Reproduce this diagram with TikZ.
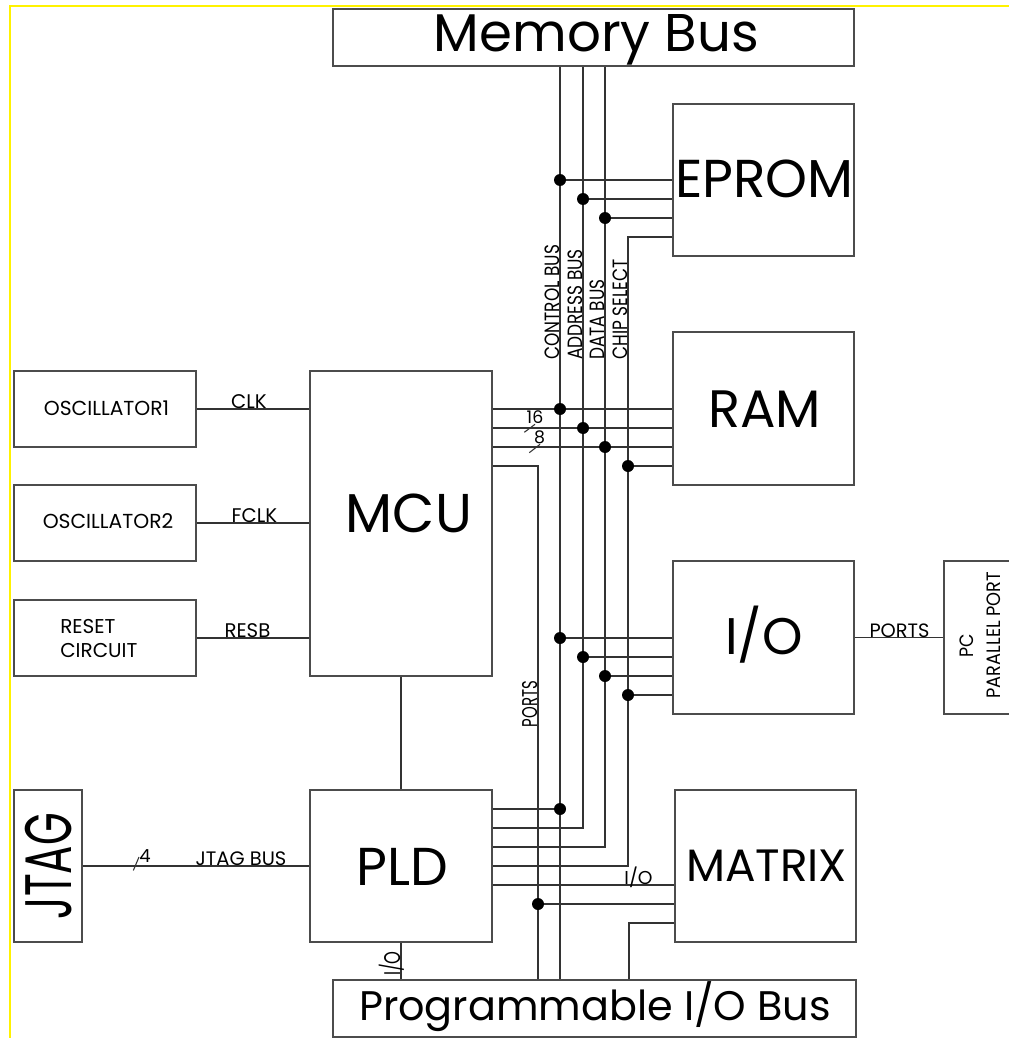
\documentclass[tikz,border=0pt]{standalone}
\usepackage{fontspec}
\setmainfont{Poppins}
\usepackage{graphicx}
\usetikzlibrary{fit,calc}
\newcommand\fs[1]{\fontsize{#1}{#1}\selectfont}
\newcommand\sq[2]{\scalebox{#1}[1]{#2}}
\tikzset{
  box/.style={draw=black!70, line width=0.9pt, inner sep=0pt},
  wire/.style={draw=black!80, line width=0.8pt},
  jdot/.style={circle, fill=black, draw=none, inner sep=0pt, minimum size=9pt},
  lbl/.style={inner sep=0pt, anchor=base, text=black},
  small/.style={lbl, font=\fs{15.2}},
  vlbl/.style={inner sep=0pt, anchor=base west, rotate=90, font=\fs{15.5}},
}
\begin{document}
\begin{tikzpicture}[x=0.75pt,y=-0.75pt]
\useasboundingbox (0,0) rectangle (1008,1038);
\draw[yellow, line width=1.5pt] (1010,6) -- (10,6) -- (10,1040);

% boxes
\node[box, fit={(333,9) (854,66)}] (mem) {};
\node[box, fit={(673,104) (854,256)}] (eprom) {};
\node[box, fit={(673,332) (854,485)}] (ram) {};
\node[box, fit={(673,561) (854,714)}] (io) {};
\node[box, fit={(675,790) (856,942)}] (matrix) {};
\node[box, fit={(333,980) (856,1037)}] (prog) {};
\node[box, fit={(310,371) (492,676)}] (mcu) {};
\node[box, fit={(310,790) (492,942)}] (pld) {};
\node[box, fit={(14,371) (196,447)}] (osc1) {};
\node[box, fit={(14,485) (196,561)}] (osc2) {};
\node[box, fit={(14,600) (196,676)}] (reset) {};
\node[box, fit={(14,790) (82,942)}] (jtag) {};
\node[box, fit={(944,561) (1020,714)}] (pc) {};

% junction coordinates
\coordinate (eS) at (628,237);
\coordinate (mp0) at (538,466);
\coordinate (pA) at (583,828);
\coordinate (pD) at (605,847);
\coordinate (pS) at (628,866);
\coordinate (mI) at (600,885);
\coordinate (mq) at (629,923);
\coordinate (eC) at (560,180);
\coordinate (eA) at (583,199);
\coordinate (eD) at (605,218);
\coordinate (rC) at (560,409);
\coordinate (rA) at (583,428);
\coordinate (rD) at (605,447);
\coordinate (rS) at (628,466);
\coordinate (iC) at (560,638);
\coordinate (iA) at (583,657);
\coordinate (iD) at (605,676);
\coordinate (iS) at (628,695);
\coordinate (pC) at (560,809);
\coordinate (mP) at (538,904);

% bus lines
\draw[wire] (mem.south -| eC) -- (prog.north -| eC);
\draw[wire] (mem.south -| eA) -- (pA) -- (pld.east |- pA);
\draw[wire] (mem.south -| eD) -- (pD) -- (pld.east |- pD);
\draw[wire] (eprom.west |- eS) -- (eS) -- (pS) -- (pld.east |- pS);
\draw[wire] (mcu.east |- mp0) -- (mp0) -- (prog.north -| mp0);

% eprom
\draw[wire] (eC) -- (eprom.west |- eC);
\draw[wire] (eA) -- (eprom.west |- eA);
\draw[wire] (eD) -- (eprom.west |- eD);
% ram
\draw[wire] (mcu.east |- rC) -- (ram.west |- rC);
\draw[wire] (mcu.east |- rA) -- (ram.west |- rA);
\draw[wire] (mcu.east |- rD) -- (ram.west |- rD);
\draw[wire] (rS) -- (ram.west |- rS);
% io
\draw[wire] (iC) -- (io.west |- iC);
\draw[wire] (iA) -- (io.west |- iA);
\draw[wire] (iD) -- (io.west |- iD);
\draw[wire] (iS) -- (io.west |- iS);
% pld / matrix
\draw[wire] (pld.east |- pC) -- (pC);
\draw[wire] (pld.east |- mI) -- (matrix.west |- mI);
\draw[wire] (mP) -- (matrix.west |- mP);
\draw[wire] (prog.north -| mq) -- (mq) -- (matrix.west |- mq);
\draw[wire] (mcu.south) -- (pld.north);
\draw[wire] (pld.south) -- (prog.north -| pld.south);
% left side
\draw[wire] (osc1.east) -- (mcu.west |- osc1.east);
\draw[wire] (osc2.east) -- (mcu.west |- osc2.east);
\draw[wire] (reset.east) -- (mcu.west |- reset.east);
\draw[wire] (jtag.east) -- (pld.west |- jtag.east);
\draw[wire] (io.east) -- (pc.west |- io.east);

% bus width slashes
\draw[wire] (524.3,432.3) -- (535,424.3);
\draw[wire] (529.3,452.7) -- (540,444.3);
\draw[wire] (133.3,870.5) -- (139,857);

% dots
\foreach \p in {eC,eA,eD,rC,rA,rD,rS,iC,iA,iD,iS,pC,mP}
  \node[jdot] at (\p) {};

% big labels
\node[lbl, font=\fs{39.8}] (memT) at (596.5,52) {Memory Bus};
\node[lbl, font=\fs{40}] (epromT) at (764.5,197) {EPROM};
\node[lbl, font=\fs{39.5}] (ramT) at (764.5,427) {RAM};
\node[lbl, font=\fs{41}] (mcuT) at (409,532) {MCU};
\node[lbl, font=\fs{38.6}] (ioT) at (764,654) {I/O};
\node[lbl, font=\fs{40}] (pldT) at (402,885) {PLD};
\node[lbl, font=\fs{34}] (matrixT) at (766.5,881) {MATRIX};
\node[lbl, font=\fs{31}] (progT) at (595,1020) {Programmable I/O Bus};
\node[lbl, rotate=90, font=\fs{49.3}] (jtagT) at (71,866) {\sq{0.64}{JTAG}};

% small labels
\node[small] (osc1T) at (106.5,415) {OSCILLATOR1};
\node[small] (osc2T) at (108,528) {OSCILLATOR2};
\node[inner sep=0pt, anchor=base west, align=left, font=\fontsize{15}{17.6}\selectfont] (resetT) at (60,657) {RESET\\CIRCUIT};
\node[small, font=\fs{14.8}] (clkT) at (249,408) {CLK};
\node[small, font=\fs{14.8}] (fclkT) at (254.5,522) {FCLK};
\node[small, font=\fs{14.8}] (resbT) at (247.5,637) {RESB};
\node[small, font=\fs{14.6}] (jbusT) at (241,865) {JTAG BUS};
\node[small, font=\fs{13.5}] (fourT) at (145,862) {4};
\node[small, font=\fs{13}] (sixteenT) at (535,423) {16};
\node[small, font=\fs{13}] (eightT) at (539.5,443) {8};
\node[small, font=\fs{14.5}] (portsT) at (899.5,637) {PORTS};
\node[small, font=\fs{14}] (ioLT) at (638.5,884) {I/O};

% rotated labels
\node[vlbl] (cbT) at (559,360) {\sq{0.82}{CONTROL BUS}};
\node[vlbl] (abT) at (582,360) {\sq{0.82}{ADDRESS BUS}};
\node[vlbl] (dbT) at (604,360) {\sq{0.82}{DATA BUS}};
\node[vlbl] (csT) at (627,360) {\sq{0.82}{CHIP SELECT}};
\node[lbl, rotate=90, font=\fs{16}] (portsV) at (537,704) {\sq{0.7}{PORTS}};
\node[lbl, rotate=90, font=\fs{17}] (ioV) at (400,963.5) {\sq{0.72}{I/O}};
\node[lbl, rotate=90, font=\fs{14.5}] (pcT) at (973,646) {\sq{0.9}{PC}};
\node[lbl, rotate=90, font=\fs{14.5}] (ppT) at (1000,635) {\sq{0.92}{PARALLEL PORT}};
\end{tikzpicture}
\end{document}
